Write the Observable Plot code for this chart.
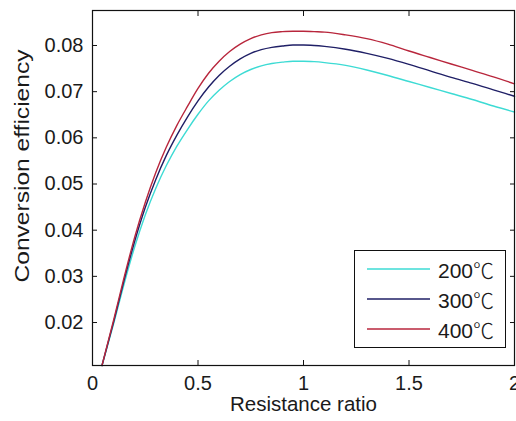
<!DOCTYPE html>
<html><head><meta charset="utf-8">
<script src="https://cdn.jsdelivr.net/npm/d3@7"></script>
<script src="https://cdn.jsdelivr.net/npm/@observablehq/plot@0.6"></script>
<style>
body{margin:0;background:#fff;}
#wrap{position:relative;width:516px;height:421px;overflow:hidden;font-family:"Liberation Sans",Arial,sans-serif;background:#fff;}
#legend{position:absolute;left:354px;top:250px;width:152px;height:98px;border:1px solid #111;background:#fff;box-sizing:border-box;}
.row{position:absolute;left:0;width:150px;height:30px;}
.row svg{position:absolute;left:11px;top:0;}
.row span.t{position:absolute;left:83px;top:2px;font-size:21px;line-height:24px;color:#1a1a1a;font-family:"Liberation Sans",sans-serif;white-space:nowrap;}
.row span.u{font-family:"Noto Sans CJK SC",sans-serif;font-weight:300;}
</style></head><body><div id="wrap"></div>
<script>
// ---- data ----
const ratio  = [0.045,0.1,0.15,0.2,0.25,0.3,0.35,0.4,0.45,0.5,0.55,0.6,0.65,0.7,0.75,0.8,0.85,0.9,0.95,1.0,1.05,1.1,1.2,1.3,1.4,1.5,1.6,1.7,1.8,1.9,2.0];
const eff200 = [0.0107,0.0197,0.0284,0.0364,0.0433,0.0491,0.0540,0.0582,0.0618,0.0651,0.0680,0.0703,0.0722,0.0737,0.0748,0.0756,0.0761,0.0764,0.0766,0.0766,0.0765,0.0763,0.0757,0.0747,0.0735,0.0722,0.0709,0.0696,0.0683,0.0669,0.0656];
const eff300 = [0.0107,0.0201,0.0292,0.0376,0.0449,0.0510,0.0562,0.0606,0.0645,0.0680,0.0710,0.0735,0.0755,0.0771,0.0783,0.0791,0.0796,0.0799,0.0801,0.0801,0.0800,0.0798,0.0792,0.0783,0.0772,0.0759,0.0745,0.0731,0.0718,0.0704,0.0690];
const eff400 = [0.0107,0.0205,0.0298,0.0385,0.0460,0.0525,0.0580,0.0627,0.0668,0.0707,0.0740,0.0766,0.0787,0.0803,0.0815,0.0823,0.0828,0.0830,0.0831,0.0831,0.0830,0.0829,0.0823,0.0815,0.0803,0.0788,0.0774,0.0760,0.0746,0.0732,0.0717];
const seriesTemps  = ["200","300","400"];
const unitSymbol   = "℃";
const seriesNames  = seriesTemps.map(t => t + unitSymbol);
const seriesColors = ["#3ddbd4","#1f1f66","#b8263c"];
const xTicks = [0,0.5,1,1.5,2];
const xTickLabels = ["0","0.5","1","1.5","2"];
const yTicks = [0.02,0.03,0.04,0.05,0.06,0.07,0.08];
const yTickLabels = ["0.02","0.03","0.04","0.05","0.06","0.07","0.08"];
const xLabel = "Resistance ratio";
const yLabel = "Conversion efficiency";

const seriesValues = [eff200, eff300, eff400];
const rows = [];
seriesNames.forEach((name, s) => ratio.forEach((r, i) => rows.push({ratio: r, eff: seriesValues[s][i], series: name})));

const chart = Plot.plot({
  width: 516, height: 421,
  marginLeft: 92, marginRight: 2, marginTop: 10, marginBottom: 56,
  x: {domain: [0, 2]},
  y: {domain: [0.01069, 0.08758]},
  color: {domain: seriesNames, range: seriesColors},
  style: {fontFamily: "'Liberation Sans', Arial, sans-serif", fontSize: "20px", color: "#1a1a1a", background: "#fff"},
  marks: [
    Plot.line(rows, {x: "ratio", y: "eff", stroke: "series", strokeWidth: 1.4, curve: "monotone-x"}),
    Plot.frame({stroke: "#111", strokeWidth: 1.2}),
    Plot.axisX(xTicks, {anchor: "bottom", tickSize: 5, dy: -5, fill: "none", label: null, stroke: "#111"}),
    Plot.axisX(xTicks, {anchor: "top", tickSize: 5, dy: 5, fill: "none", label: null, stroke: "#111"}),
    Plot.axisY(yTicks, {anchor: "left", tickSize: 5, dx: 5, fill: "none", label: null, stroke: "#111"}),
    Plot.axisY(yTicks, {anchor: "right", tickSize: 5, dx: -5, fill: "none", label: null, stroke: "#111"}),
    Plot.axisX(xTicks, {anchor: "bottom", tickSize: 0, tickPadding: 10, label: null, fontSize: 20, fill: "#1a1a1a",
      tickFormat: d => xTickLabels[xTicks.indexOf(d)]}),
    Plot.axisY(yTicks, {anchor: "left", tickSize: 0, tickPadding: 9, label: null, fontSize: 20, fill: "#1a1a1a",
      tickFormat: d => yTickLabels[yTicks.indexOf(d)]}),
    Plot.text([xLabel], {text: d => d, frameAnchor: "bottom", dy: 45, fontSize: 20.5, fill: "#1a1a1a"}),
    Plot.text([yLabel], {text: d => d, frameAnchor: "left", textAnchor: "middle", rotate: -90, dx: -70, dy: -22, fontSize: 21, fill: "#1a1a1a"})
  ]
});
const wrap = document.getElementById("wrap");
wrap.appendChild(chart);
// stretch the y label along its length like the reference
d3.select(chart).selectAll("text").filter(function(){ return this.textContent === yLabel; })
  .each(function(){
    const t = this.getAttribute("transform") || "";
    this.setAttribute("transform", t + " scale(1.17,1)");
  });

// legend
const legend = document.createElement("div");
legend.id = "legend";
seriesTemps.forEach((temp, i) => {
  const row = document.createElement("div");
  row.className = "row";
  row.style.top = (4 + i * 30) + "px";
  row.innerHTML = `<svg width="66" height="30"><line x1="1" x2="64" y1="14" y2="14" stroke="${seriesColors[i]}" stroke-width="1.6"/></svg><span class="t">${temp}<span class="u">${unitSymbol}</span></span>`;
  legend.appendChild(row);
});
wrap.appendChild(legend);
</script>
</body></html>
